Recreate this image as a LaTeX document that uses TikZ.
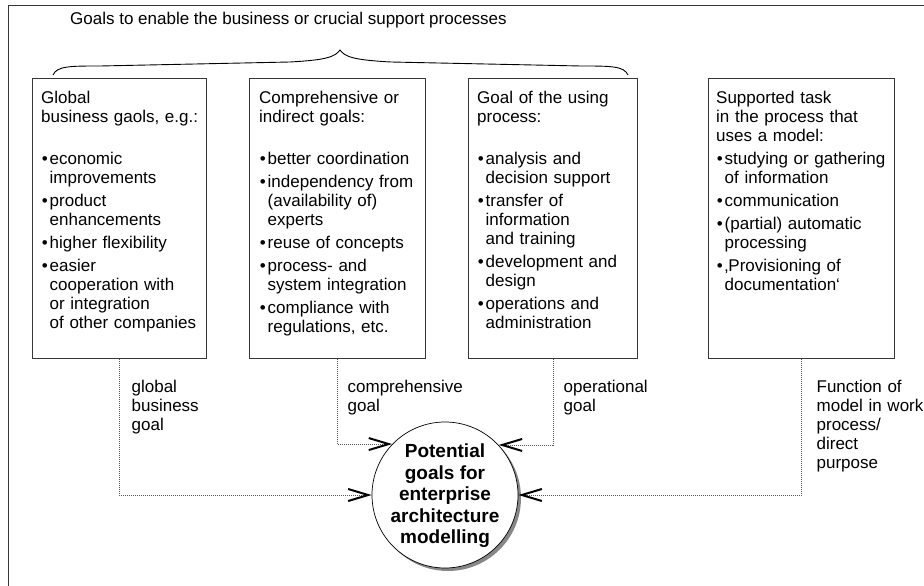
\documentclass[tikz,border=0pt]{standalone}
\usepackage{fontspec}
\setmainfont{Liberation Sans}
\usepackage{xcolor}
\definecolor{line-dark}{RGB}{55,55,55}
\definecolor{dot-dark}{RGB}{85,85,85}
\definecolor{shade-gray}{RGB}{135,135,135}
\usepackage{tikz}
\usetikzlibrary{arrows.meta,shadows}
\setlength{\parindent}{0pt}
\setlength{\parskip}{0pt}
\newcommand{\gitem}[1]{\par\vspace{4pt}\hangindent=8.5pt\hangafter=1%
  \makebox[8.5pt][l]{\hspace{0.6pt}\textbullet}#1}
\newcommand{\hdgap}{\par\vspace{19pt}}

\begin{document}
\begin{tikzpicture}[
    x=1pt, y=-1pt,
    every node/.style={inner sep=0pt},
    goalbox/.style={draw=line-dark, line width=0.9pt, fill=white,
        anchor=north west, minimum height=280pt},
    goaltext/.style={anchor=north west, align=left,
        font=\fontsize{17}{19}\selectfont},
    linktext/.style={anchor=north west, align=left, text width=120pt,
        font=\fontsize{17}{19}\selectfont},
    link/.style={draw=dot-dark, line width=0.8pt, dash pattern=on 1pt off 1pt,
        -{Straight Barb[length=20pt, width=12pt, line width=2pt, color=black]}}
]
\useasboundingbox (0,0) rectangle (924,586);

% Page frame
\draw[line-dark, line width=0.9pt] (924,5) -| (8,586);

% Heading and brace
\node[font=\fontsize{17}{19}\selectfont, anchor=base west] (title) at (70,25)
    {Goals to enable the business or crucial support processes};
\draw[line width=0.9pt] (53,75) .. controls (57,66) and (70,66) .. (100,66)
    -- (290,62) .. controls (326,60) and (335,57) .. (340,50)
    .. controls (345,57) and (354,60) .. (391,62) -- (581,66)
    .. controls (611,66) and (624,66) .. (628,75);

% Goal boxes
\node[goalbox, minimum width=174pt] (global) at (32,78) {};
\node[goalbox, minimum width=176pt] (compr) at (249,78) {};
\node[goalbox, minimum width=169pt] (oper) at (468,78) {};
\node[goalbox, minimum width=186pt] (task) at (708,78) {};

% Box texts
\node[goaltext, text width=165pt] (tglobal)
    at ([xshift=9pt, yshift=-11.7pt]global.north west) {%
\strut Global\newline business gaols, e.g.:\hdgap
\gitem{economic\newline improvements}
\gitem{product\newline enhancements}
\gitem{higher flexibility}
\gitem{easier\newline cooperation with\newline or integration\newline of other companies}\par};

\node[goaltext, text width=167pt] (tcompr)
    at ([xshift=10pt, yshift=-11.7pt]compr.north west) {%
\strut Comprehensive or\newline indirect goals:\hdgap
\gitem{better coordination}
\gitem{independency from\newline (availability of)\newline experts}
\gitem{reuse of concepts}
\gitem{process- and\newline system integration}
\gitem{compliance with\newline regulations, etc.}\par};

\node[goaltext, text width=160pt] (toper)
    at ([xshift=9pt, yshift=-11.7pt]oper.north west) {%
\strut Goal of the using\newline process:\hdgap
\gitem{analysis and\newline decision support}
\gitem{transfer of\newline information\newline and training}
\gitem{development and\newline design}
\gitem{operations and\newline administration}\par};

\node[goaltext, text width=177pt] (ttask)
    at ([xshift=8pt, yshift=-11.7pt]task.north west) {%
\strut Supported task\newline in the process that\newline uses a model:
\gitem{studying or gathering\newline of information}
\gitem{communication}
\gitem{(partial) automatic\newline processing}
\gitem{‚Provisioning of\newline documentation‘}\par};

% Central goal
\node[circle, draw=black, line width=0.7pt, fill=white, minimum size=146pt,
    drop shadow={shadow xshift=3pt, shadow yshift=-3pt, fill=shade-gray, opacity=1}]
    (goal) at (445,495) {};
\node[font=\bfseries\fontsize{19}{21.5}\selectfont, align=center] (goaltxt)
    at ([yshift=-1pt]goal.center)
    {Potential\\goals for\\enterprise\\architecture\\modelling};

% Connectors
\draw[link] (global.south) |- (goal.west);
\draw[link] (compr.south) |- (goal.136.7);
\draw[link] (oper.south) |- (goal.43.3);
\draw[link] (task.south) |- (goal.east);

% Connector labels
\node[linktext] (lglobal) at ([xshift=12pt, yshift=-19.7pt]global.south)
    {\strut global\newline business\newline goal};
\node[linktext] (lcompr) at ([xshift=10pt, yshift=-19.7pt]compr.south)
    {\strut comprehensive\newline goal};
\node[linktext] (loper) at ([xshift=10.5pt, yshift=-19.7pt]oper.south)
    {\strut operational\newline goal};
\node[linktext] (ltask) at ([xshift=15pt, yshift=-19.7pt]task.south)
    {\strut Function of\newline model in work\newline process/\newline direct\newline purpose};

\end{tikzpicture}
\end{document}
